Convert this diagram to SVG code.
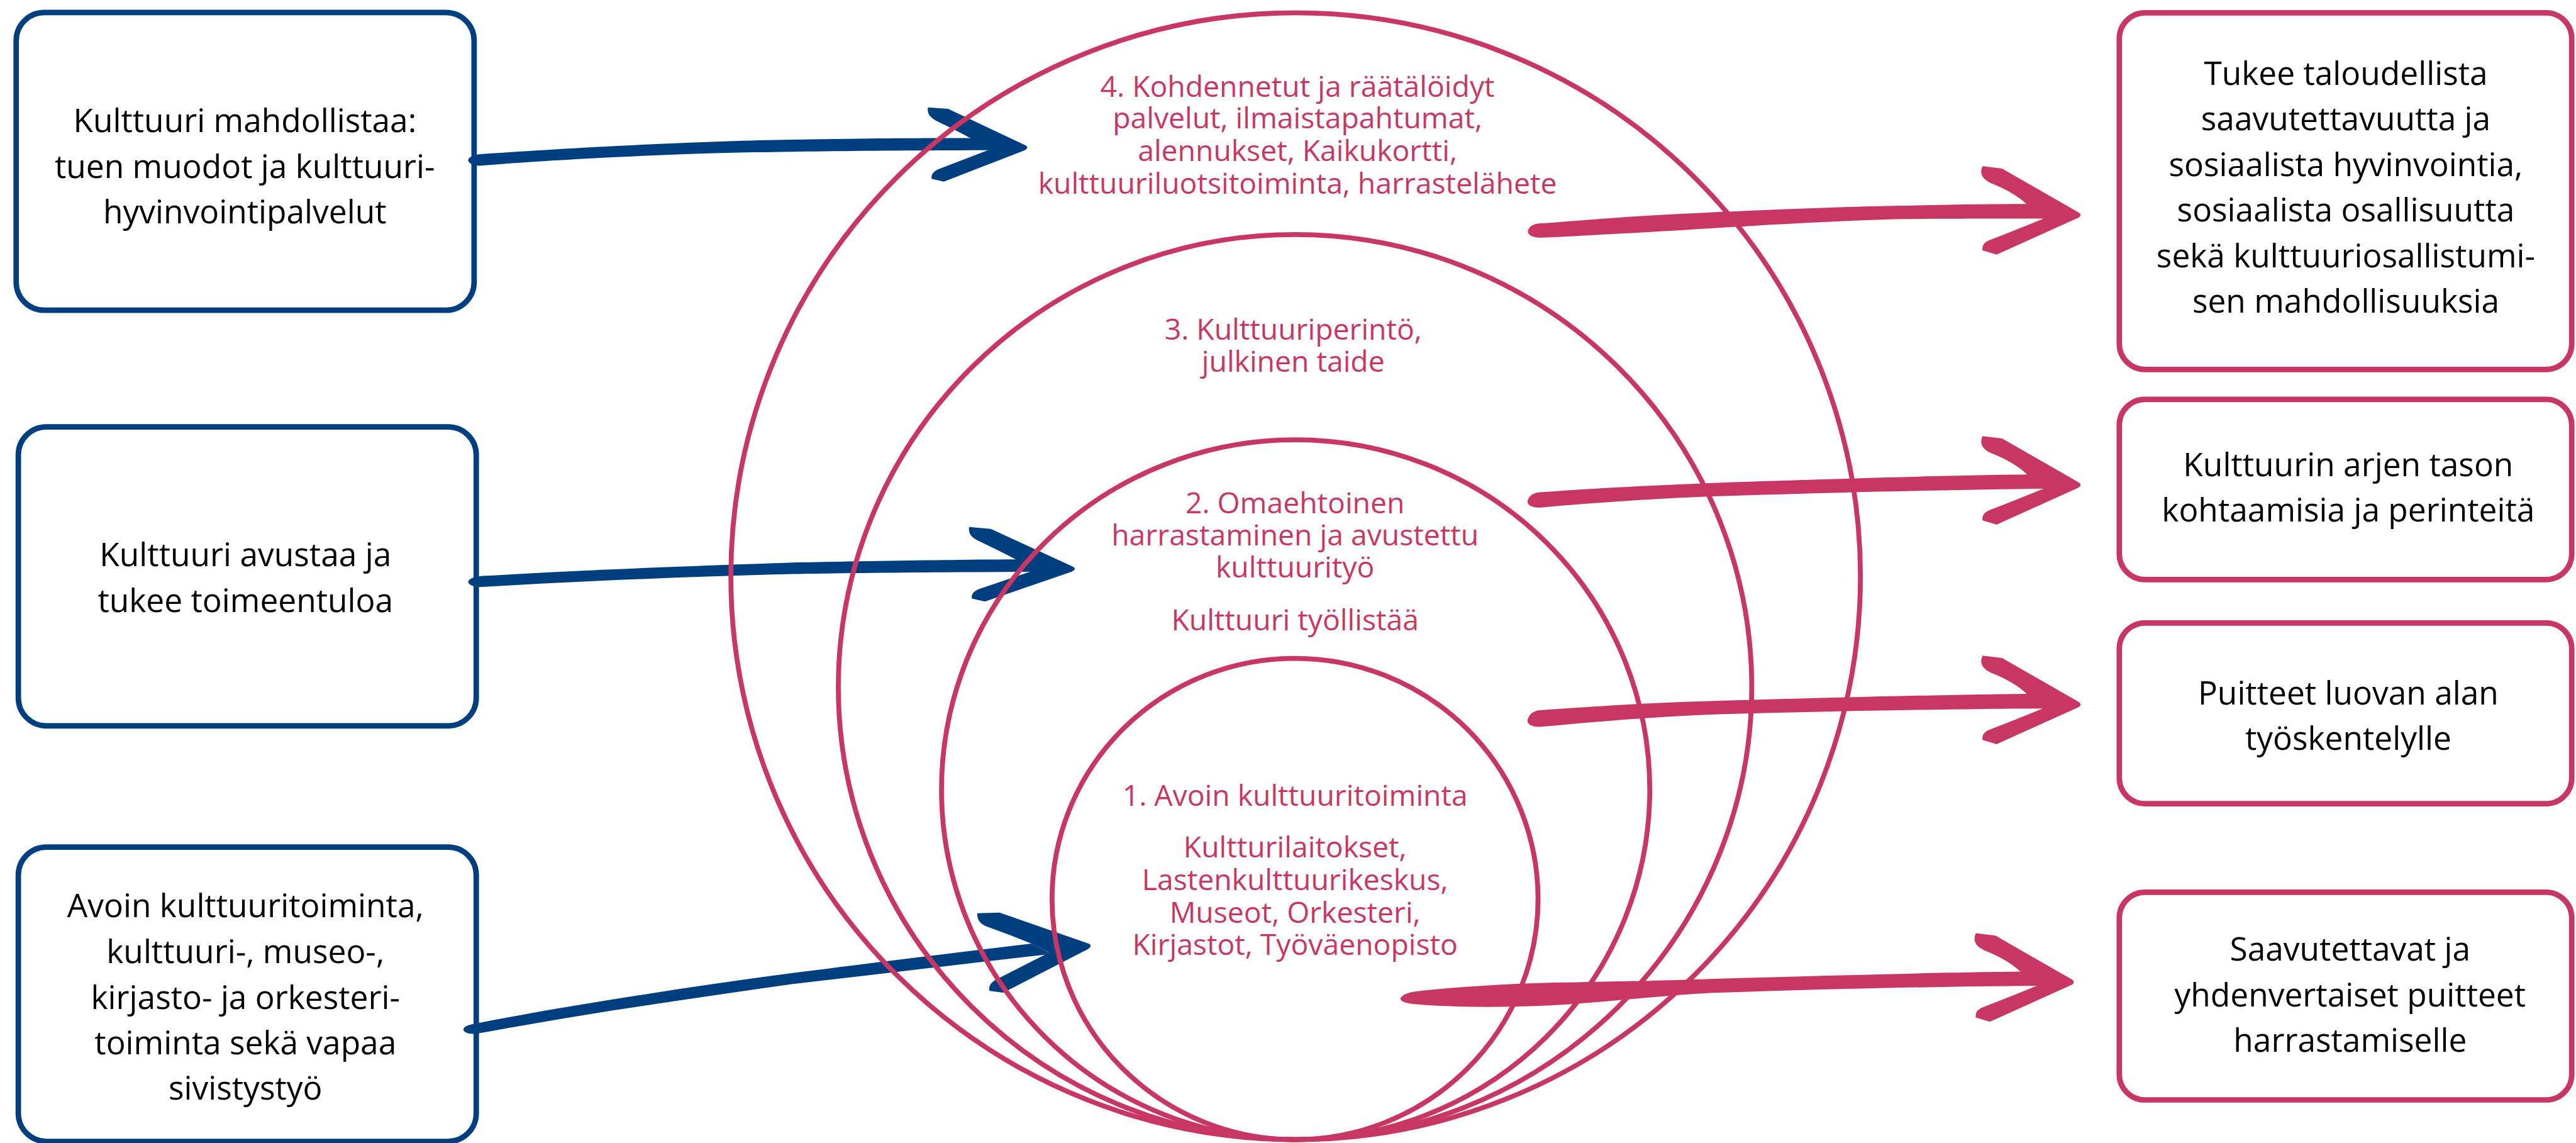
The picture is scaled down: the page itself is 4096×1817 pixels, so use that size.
<svg xmlns="http://www.w3.org/2000/svg" xmlns:xlink="http://www.w3.org/1999/xlink" width="4096" height="1817" viewBox="0 0 4096 1817">
<style>
.bb{fill:#fff;stroke:#003F7F;stroke-width:9}
.bp{fill:#fff;stroke:#C83764;stroke-width:9}
.ring{fill:none;stroke:#C83764;stroke-width:8}
.t{font-family:'Open Sans','Liberation Sans',sans-serif;font-size:53px;fill:#000;text-anchor:middle}
.tp{font-family:'Open Sans','Liberation Sans',sans-serif;font-size:47.7px;fill:#C83764;text-anchor:middle}
.ab{fill:#003F7F}
.ap{fill:#C83764}
</style>
<defs>
<path id="headB" d="M-165,-68 L-132,-65 L-8,-4 Q1,0 -8,5 L-141,54 L-161,49 Q-163,40 -151,34 L-66,3 L-90,-13 Q-120,-30 -152,-46 Q-168,-54 -165,-68 Z"/>
<path id="headP" d="M-164,-80 L-132,-76 L-8,-5 Q1,0 -8,5 L-141,65 L-164,58 Q-166,46 -152,41 Q-110,25 -64,6 L-91,-17 Q-112,-37 -150,-52 Q-172,-62 -164,-80 Z"/>
</defs>
<rect width="4096" height="1817" fill="#fff"/>
<g transform="scale(0.97085)">
<g id="box-mahdollistaa">
<rect class="bb" x="26.5" y="20.5" width="750" height="487.5" rx="46"/>
<text class="t" x="401" y="216">Kulttuuri mahdollistaa:</text>
<text class="t" x="401" y="291">tuen muodot ja kulttuuri-</text>
<text class="t" x="401" y="366">hyvinvointipalvelut</text>
</g>
<g id="box-avustaa">
<rect class="bb" x="30" y="699" width="750" height="489.5" rx="46"/>
<text class="t" x="402" y="927">Kulttuuri avustaa ja</text>
<text class="t" x="402" y="1002">tukee toimeentuloa</text>
</g>
<g id="box-avoin">
<rect class="bb" x="30" y="1387" width="750" height="482" rx="46"/>
<text class="t" x="402" y="1502">Avoin kulttuuritoiminta,</text>
<text class="t" x="402" y="1577">kulttuuri-, museo-,</text>
<text class="t" x="402" y="1652">kirjasto- ja orkesteri-</text>
<text class="t" x="402" y="1726">toiminta sekä vapaa</text>
<text class="t" x="402" y="1801">sivistystyö</text>
</g>
<g id="box-tukee">
<rect class="bp" x="3471" y="21" width="741" height="584" rx="42"/>
<text class="t" x="3842" y="139">Tukee taloudellista</text>
<text class="t" x="3842" y="213.5">saavutettavuutta ja</text>
<text class="t" x="3842" y="288">sosiaalista hyvinvointia,</text>
<text class="t" x="3842" y="363">sosiaalista osallisuutta</text>
<text class="t" x="3842" y="437.5">sekä kulttuuriosallistumi-</text>
<text class="t" x="3842" y="512">sen mahdollisuuksia</text>
</g>
<g id="box-arjen">
<rect class="bp" x="3471" y="654" width="741" height="295" rx="42"/>
<text class="t" x="3846" y="780">Kulttuurin arjen tason</text>
<text class="t" x="3846" y="854">kohtaamisia ja perinteitä</text>
</g>
<g id="box-puitteet">
<rect class="bp" x="3471" y="1020" width="741" height="296" rx="42"/>
<text class="t" x="3846" y="1153.5">Puitteet luovan alan</text>
<text class="t" x="3846" y="1228">työskentelylle</text>
</g>
<g id="box-saavutettavat">
<rect class="bp" x="3471" y="1461" width="741" height="340" rx="42"/>
<text class="t" x="3849" y="1573">Saavutettavat ja</text>
<text class="t" x="3849" y="1648">yhdenvertaiset puitteet</text>
<text class="t" x="3849" y="1722">harrastamiselle</text>
</g>
<g id="connectors">
<g id="arrow-b1" class="ab">
<path d="M791,252 C900,245 1000,238 1200,231 C1400,226 1500,226 1605,226 L1625,246 C1450,246 1300,248 1200,250 C1050,254 900,262 791,271 C775,273 765,266 767,261 C769,256 778,253 791,252 Z"/>
<use xlink:href="#headB" href="#headB" transform="translate(1686,241) rotate(-1)"/>
</g>
<g id="arrow-b2" class="ab">
<path d="M791,943 C900,937 1000,931 1300,921 C1500,917 1600,916 1690,916 L1705,936 C1550,937 1400,938 1300,940 C1100,945 950,952 791,961 C776,962 766,957 767,952 C768,947 778,944 791,943 Z"/>
<use xlink:href="#headB" href="#headB" transform="translate(1764,931) scale(1.07,1)"/>
</g>
<g id="arrow-b3" class="ab">
<path d="M784,1675 C850,1662 920,1650 1000,1637 C1100,1621 1200,1606 1300,1593 C1450,1574 1580,1558 1690,1545 L1722,1562 C1580,1578 1450,1594 1300,1611 C1200,1625 1100,1640 1000,1655 C920,1668 850,1680 784,1692 C768,1695 758,1690 759,1685 C760,1680 770,1677 784,1675 Z"/>
<use xlink:href="#headB" href="#headB" transform="translate(1790,1547.5) rotate(-7) scale(1.1)"/>
</g>
<g id="arrow-p1" class="ap">
<path d="M2520,366 C2600,360 2650,356 2700,353 C2850,345 3000,339 3100,337 C3200,335 3260,334 3325,334 L3350,358 C3250,358 3170,358 3100,359 C2950,364 2800,374 2700,380 C2620,384 2560,388 2525,389 C2508,390 2500,383 2503,376 C2506,370 2512,367 2520,366 Z"/>
<use xlink:href="#headP" href="#headP" transform="translate(3411,352)"/>
</g>
<g id="arrow-p2" class="ap">
<path d="M2522,806 C2620,799 2700,795 2800,791 C3000,784 3200,778 3325,777 L3350,800 C3200,802 3000,806 2800,813 C2700,817 2600,824 2525,831 C2508,832 2500,826 2502,819 C2505,811 2512,807 2522,806 Z"/>
<use xlink:href="#headP" href="#headP" transform="translate(3411,794)"/>
</g>
<g id="arrow-p3" class="ap">
<path d="M2522,1163 C2620,1156 2700,1151 2800,1148 C3000,1142 3200,1137 3325,1136 L3350,1160 C3200,1161 3000,1164 2800,1170 C2700,1174 2600,1183 2525,1190 C2508,1191 2500,1185 2502,1178 C2505,1169 2512,1164 2522,1163 Z"/>
<use xlink:href="#headP" href="#headP" transform="translate(3411,1153.5)"/>
</g>
<g id="arrow-p4" class="ap">
<path d="M2314,1624 C2380,1616 2470,1611 2544,1609 C2650,1607 2720,1606 2800,1603 C3000,1597 3200,1592 3315,1591 L3340,1614 C3200,1615 3000,1619 2800,1626 C2700,1632 2620,1642 2544,1646 C2460,1650 2380,1650 2314,1644 C2298,1642 2292,1638 2294,1634 C2297,1629 2304,1626 2314,1624 Z"/>
<use xlink:href="#headP" href="#headP" transform="translate(3400,1608)"/>
</g>
</g>
<g id="ring-4">
<ellipse class="ring" cx="2122" cy="943.5" rx="925" ry="922.5"/>
<text class="tp" x="2125" y="158.5">4. Kohdennetut ja räätälöidyt</text>
<text class="tp" x="2125" y="210">palvelut, ilmaistapahtumat,</text>
<text class="tp" x="2125" y="263.5">alennukset, Kaikukortti,</text>
<text class="tp" x="2125" y="317">kulttuuriluotsitoiminta, harrastelähete</text>
</g>
<g id="ring-3">
<ellipse class="ring" cx="2121" cy="1125" rx="748" ry="741"/>
<text class="tp" x="2118" y="556">3. Kulttuuriperintö,</text>
<text class="tp" x="2118" y="609">julkinen taide</text>
</g>
<g id="ring-2">
<ellipse class="ring" cx="2122" cy="1293" rx="580" ry="573"/>
<text class="tp" x="2121" y="841">2. Omaehtoinen</text>
<text class="tp" x="2121" y="893">harrastaminen ja avustettu</text>
<text class="tp" x="2121" y="945.5">kulttuurityö</text>
<text class="tp" x="2121" y="1031.7">Kulttuuri työllistää</text>
</g>
<g id="ring-1">
<ellipse class="ring" cx="2121" cy="1472" rx="398" ry="394"/>
<text class="tp" x="2121" y="1319">1. Avoin kulttuuritoiminta</text>
<text class="tp" x="2121" y="1404">Kultturilaitokset,</text>
<text class="tp" x="2121" y="1457">Lastenkulttuurikeskus,</text>
<text class="tp" x="2121" y="1510.6">Museot, Orkesteri,</text>
<text class="tp" x="2121" y="1563.4">Kirjastot, Työväenopisto</text>
</g>
</g>
</svg>
